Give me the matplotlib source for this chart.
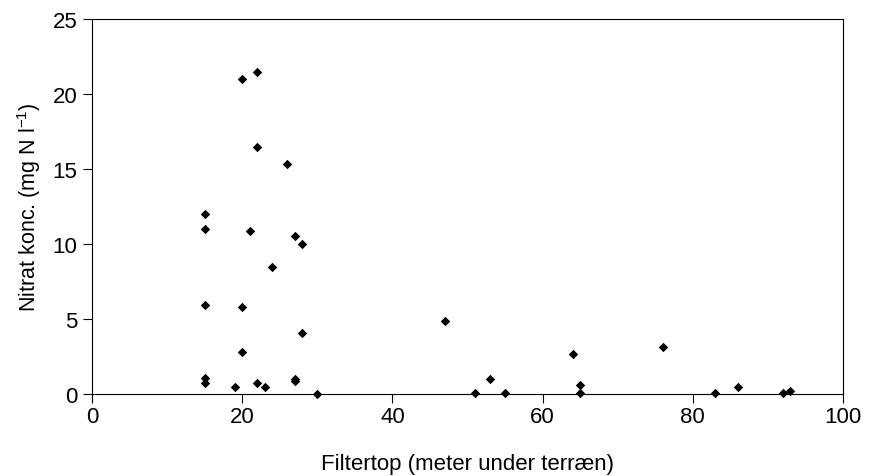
import matplotlib
matplotlib.use("Agg")
import matplotlib.pyplot as plt

plt.rcParams['font.family'] = ['Liberation Sans', 'DejaVu Sans']

filtertop = [15, 15, 15, 15, 15, 19, 20, 20, 20, 21, 22, 22, 22, 23, 24, 26,
             27, 27, 27, 28, 28, 30, 47, 51, 53, 55, 64, 65, 65, 76, 83, 86, 92, 93]
nitrat = [12.0, 11.0, 5.93, 1.04, 0.73, 0.49, 21.0, 5.78, 2.82, 10.89, 21.49, 16.49, 0.76,
          0.49, 8.49, 15.31, 10.55, 1.0, 0.87, 10.0, 4.07, 0.0, 4.89, 0.09, 1.0, 0.09,
          2.64, 0.62, 0.09, 3.13, 0.09, 0.49, 0.08, 0.2]
xticks = [0, 20, 40, 60, 80, 100]
yticks = [0, 5, 10, 15, 20, 25]

fig = plt.figure(figsize=(8.71, 4.77), dpi=100)
ax = fig.add_axes([92/871, 1-395/477, (843-92)/871, (395-20)/477])
ax.scatter(filtertop, nitrat, marker='D', s=4.8**2, color='black', linewidths=0, zorder=3, clip_on=False)
ax.set_xlim(0, 100)
ax.set_ylim(0, 25)
ax.set_xticks(xticks)
ax.set_yticks(yticks)
ax.tick_params(direction='out', length=6.5, width=0.8, labelsize=16)
ax.tick_params(axis='x', pad=2)
ax.tick_params(axis='y', pad=4)
for s in ax.spines.values():
    s.set_linewidth(0.8)
ax.set_xlabel('Filtertop (meter under terræn)', fontsize=16, labelpad=19)
ax.set_ylabel('Nitrat konc. (mg N l$^{\\mathregular{-1}}$)', fontsize=15.5, labelpad=7)
fig.savefig('out.png', dpi=100)
